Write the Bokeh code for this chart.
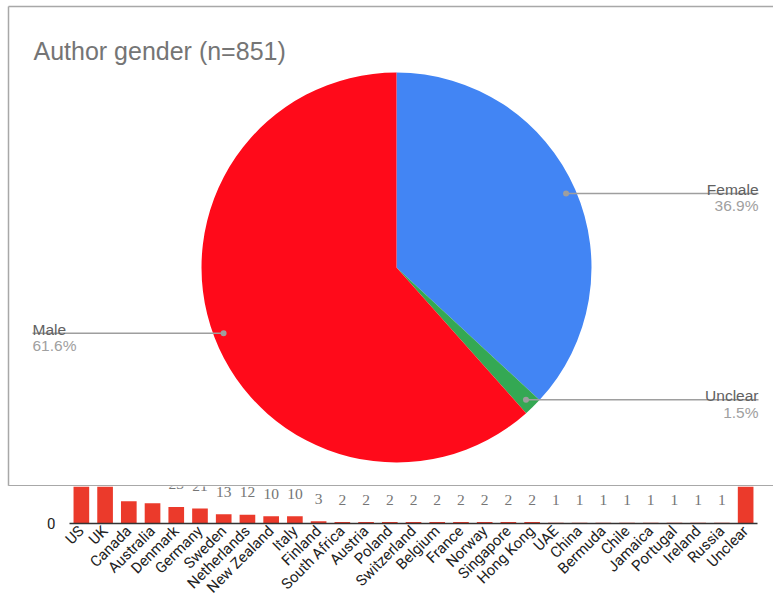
import numpy as np
from bokeh.plotting import figure
from bokeh.models import Range1d, FactorRange, ColumnDataSource, LabelSet, FixedTicker
from bokeh.embed import file_html
from bokeh.resources import INLINE
from bokeh.core.properties import value

# ---------------- data ----------------
title_text = "Author gender (n=851)"
genders = ["Female", "Unclear", "Male"]
gender_counts = [314, 13, 524]
gender_colors = ["#4285F4", "#34A853", "#FF0A1A"]

countries = ["US", "UK", "Canada", "Australia", "Denmark", "Germany", "Sweden",
             "Netherlands", "New Zealand", "Italy", "Finland", "South Africa",
             "Austria", "Poland", "Switzerland", "Belgium", "France", "Norway",
             "Singapore", "Hong Kong", "UAE", "China", "Bermuda", "Chile",
             "Jamaica", "Portugal", "Ireland", "Russia", "Unclear"]
country_counts = [420, 160, 31, 28, 23, 21, 13, 12, 10, 10, 3, 2, 2, 2, 2, 2, 2,
                  2, 2, 2, 1, 1, 1, 1, 1, 1, 1, 1, 94]
y_ticks = [0]

PIE_FONT = value("Liberation Sans")
BAR_FONT = "Roboto"

W = 773
PH = 486
BH = 120

# ---------------- pie panel ----------------
pie = figure(width=W, height=PH, x_range=Range1d(0, W), y_range=Range1d(0, PH),
             x_axis_location=None, y_axis_location=None, toolbar_location=None,
             output_backend="svg", min_border=0)
pie.grid.visible = False
pie.outline_line_color = None
pie.background_fill_color = "white"
pie.border_fill_color = "white"

# panel border (left, top, bottom)
pie.multi_line(xs=[[8, 8], [8, W + 10], [8, W + 10]],
               ys=[[0.75, 480], [480, 480], [0.75, 0.75]],
               line_color="#A8A8A8", line_width=1.5)

counts = np.array(gender_counts, dtype=float)
frac = counts / counts.sum()
cum = np.concatenate([[0.0], np.cumsum(frac)])
start = np.pi / 2 - 2 * np.pi * cum[:-1]
end = np.pi / 2 - 2 * np.pi * cum[1:]
cx, cy, R = 396, 219, 195

src = ColumnDataSource(dict(start=start, end=end, color=gender_colors))
pie.wedge(x=cx, y=cy, radius=R, start_angle="start", end_angle="end",
          direction="clock", fill_color="color", line_color=None, source=src)

mid = (start + end) / 2
dot_x = cx + 185 * np.cos(mid)
dot_y = cy + 185 * np.sin(mid)
right = np.cos(mid) > 0
end_x = np.where(right, 758, 32)

pie.segment(x0=dot_x, y0=dot_y, x1=end_x, y1=dot_y, line_color="#9E9E9E", line_width=1.5)
pie.scatter(x=dot_x, y=dot_y, size=6, fill_color="#9E9E9E", line_color=None)

for i, g in enumerate(genders):
    align = "right" if right[i] else "left"
    pie.text(x=[end_x[i]], y=[dot_y[i] + 4], text=[g], text_font=PIE_FONT,
             text_font_size="15.5px", text_color="#616161", text_align=align,
             text_baseline="alphabetic")
    pie.text(x=[end_x[i]], y=[dot_y[i] - 4], text=[f"{frac[i] * 100:.1f}%"],
             text_font=PIE_FONT, text_font_size="15.5px", text_color="#A0A0A0",
             text_align=align, text_baseline="top")

pie.text(x=[33], y=[436], text=[title_text], text_font=PIE_FONT,
         text_font_size="25px", text_color="#757575", text_baseline="alphabetic")

# ---------------- bar panel (mostly hidden behind the pie panel) ----------------
bar = figure(width=W, height=BH, x_range=FactorRange(factors=countries),
             y_range=Range1d(0, 51.4), toolbar_location=None, output_backend="svg",
             min_border_left=69, min_border_right=16, min_border_top=0,
             min_border_bottom=83)
bar.outline_line_color = None
bar.grid.visible = False
bar.background_fill_color = "white"
bar.border_fill_color = "white"

bsrc = ColumnDataSource(dict(x=countries, top=country_counts,
                             label=[str(v) for v in country_counts]))
bar.vbar(x="x", top="top", width=0.66, fill_color="#EB3A2B", line_color=None, source=bsrc)

bar.add_layout(LabelSet(x="x", y="top", text="label", source=bsrc, y_offset=17.5,
                        text_align="center", text_baseline="alphabetic",
                        text_font=BAR_FONT, text_font_size="15.5px", text_color="#757575"))

xa = bar.xaxis[0]
xa.axis_line_color = "#333333"
xa.axis_line_width = 1.5
xa.major_tick_line_color = None
xa.minor_tick_line_color = None
xa.major_tick_in = 0
xa.major_tick_out = 0
xa.major_label_orientation = np.pi / 4
xa.major_label_text_font = BAR_FONT
xa.major_label_text_font_size = "15px"
xa.major_label_text_color = "#222222"
xa.major_label_standoff = 5

ya = bar.yaxis[0]
ya.ticker = FixedTicker(ticks=y_ticks)
ya.axis_line_color = None
ya.major_tick_line_color = None
ya.minor_tick_line_color = None
ya.major_tick_out = 0
ya.major_tick_in = 0
ya.major_label_standoff = 14
ya.major_label_text_font = BAR_FONT
ya.major_label_text_font_size = "15px"
ya.major_label_text_color = "#222222"

open("out.html", "w").write(file_html([pie, bar], INLINE))
